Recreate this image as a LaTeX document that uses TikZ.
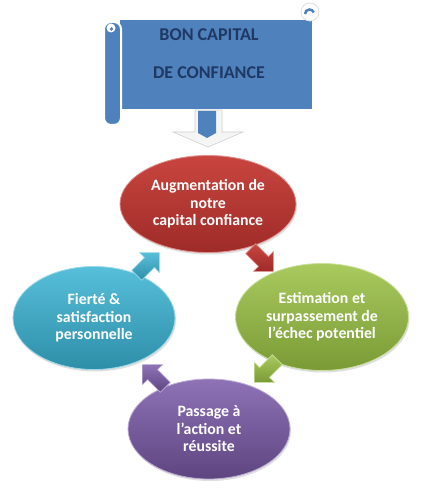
\documentclass[tikz,border=0pt]{standalone}
\usepackage{fontspec}
\setmainfont{Carlito}
\usetikzlibrary{shapes.geometric,shadows}
\definecolor{bannerblue}{HTML}{4F81BD}
\definecolor{bannertext}{HTML}{1F3864}
\definecolor{redT}{HTML}{C9453F}
\definecolor{redB}{HTML}{9E2B28}
\definecolor{greenT}{HTML}{A9CA5E}
\definecolor{greenB}{HTML}{7A9A36}
\definecolor{blueT}{HTML}{57BFDA}
\definecolor{blueB}{HTML}{2E8EA8}
\definecolor{purpT}{HTML}{8E72B6}
\definecolor{purpB}{HTML}{5E4580}
\newcommand\sq{\char"27\relax}
\tikzset{
  bubble/.style n args={2}{ellipse, inner sep=0pt, align=center, text=white,
    font=\bfseries\fontsize{15.8}{17.5}\selectfont,
    top color=#1, bottom color=#2, draw=#1!60!white, line width=0.8pt,
    drop shadow={opacity=0.25, shadow xshift=1pt, shadow yshift=-2pt}},
  pics/blockarr/.style n args={2}{code={
    \path[top color=#1, bottom color=#2, draw=#1!60!white, line width=0.6pt]
      (-16,-7) -- (2,-7) -- (2,-14) -- (16,0) -- (2,14) -- (2,7) -- (-16,7) -- cycle;}},
  roll/.style={fill=bannerblue, draw=white, line width=2pt}
}
\begin{document}
\begin{tikzpicture}[x=1pt,y=-1pt]
\useasboundingbox[fill=white] (0,0) rectangle (427,502);
% banner
\node (banner) [rectangle, fill=bannerblue, draw=white, line width=2.5pt,
  minimum width=195pt, minimum height=91pt, inner sep=0pt,
  drop shadow={opacity=0.2, shadow xshift=1.5pt, shadow yshift=-1.5pt}] at (216,64.5) {};
\draw[roll, rounded corners=7pt] (104,22) rectangle (121,125);
\fill[white] (111,28) circle (4.5);
\fill[bannerblue] (111.5,29) circle (1.8);
\draw[fill=white, draw=gray!25, line width=0.8pt] (310,12) circle (9);
\draw[bannerblue, line width=2.5pt] (305,14) arc (180:340:4.5);
\node (btext) [align=center, text=bannertext, font=\bfseries\fontsize{18}{38}\selectfont]
  at (209,54) {BON CAPITAL\\DE CONFIANCE};
% down arrow
\path[fill=gray!8, draw=gray!35, line width=0.6pt]
  (195,110) -- (222,110) -- (222,132) -- (243,132) -- (208,147) -- (173,132) -- (195,132) -- cycle;
\path[fill=bannerblue] (198,111) -- (216,111) -- (216,133) -- (207,138) -- (198,133) -- cycle;
% bubbles
\node (aug) [bubble={redT}{redB}, minimum width=176pt, minimum height=97pt] at (208,204)
  {Augmentation de\\notre\\capital confiance};
\node (est) [bubble={greenT}{greenB}, minimum width=173pt, minimum height=107pt] at (322,317)
  {Estimation et\\surpassement de\\l\sq échec potentiel};
\node (fie) [bubble={blueT}{blueB}, minimum width=162pt, minimum height=103pt] at (94,318)
  {Fierté \&\\satisfaction\\personnelle};
\node (pas) [bubble={purpT}{purpB}, minimum width=162pt, minimum height=100pt] at (209,429)
  {Passage à\\l\sq action et\\réussite};
% cycle arrows
\pic[rotate=-45] (a1) at (262,260) {blockarr={redT}{redB}};
\pic[rotate=-135] (a2) at (266,371) {blockarr={greenT}{greenB}};
\pic[rotate=135] (a3) at (154,376) {blockarr={purpT}{purpB}};
\pic[rotate=45] (a4) at (148,264) {blockarr={blueT}{blueB}};
\end{tikzpicture}
\end{document}
